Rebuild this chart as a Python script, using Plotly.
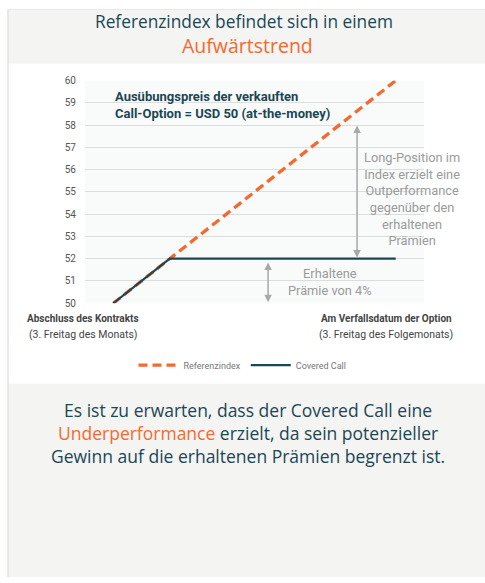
import plotly.graph_objects as go

# ---- data ----
ref_x = [1, 11]
ref_y = [50, 60]
cc_x = [1, 3, 11]
cc_y = [50, 52, 52]
y_ticks = [50, 51, 52, 53, 54, 55, 56, 57, 58, 59, 60]
series_names = ["Referenzindex", "Covered Call"]

W, H = 485, 583
ORANGE = "#f26a30"
TEAL = "#1b4754"
GREY_TXT = "#9b9b9b"
FONT = "Roboto"
TFONT = "Open Sans"

def px(xp):  # paper x from pixel
    return xp / W

def py(yp):  # paper y from pixel
    return 1 - yp / H

fig = go.Figure()
fig.add_trace(go.Scatter(x=ref_x, y=ref_y, mode="lines", name=series_names[0],
                         line=dict(color=ORANGE, width=3.3, dash="9px,5px"), cliponaxis=False))
fig.add_trace(go.Scatter(x=cc_x, y=cc_y, mode="lines", name=series_names[1],
                         line=dict(color=TEAL, width=2.2), cliponaxis=False))

shapes = [
    dict(type="rect", xref="paper", yref="paper", x0=px(8), x1=1, y0=py(60), y1=py(5),
         fillcolor="#f4f4f3", line=dict(width=0), layer="below"),
    dict(type="rect", xref="paper", yref="paper", x0=px(8), x1=1, y0=0, y1=py(386),
         fillcolor="#f4f4f3", line=dict(width=0), layer="below"),
    dict(type="line", xref="paper", yref="paper", x0=px(8), x1=px(8), y0=0, y1=py(4),
         line=dict(color="#e2e2e2", width=1.5), layer="below"),
    dict(type="line", xref="paper", yref="paper", x0=px(8), x1=1, y0=py(4.5), y1=py(4.5),
         line=dict(color="#e6e6e6", width=1), layer="below"),
]

def ann(**kw):
    kw.setdefault("xanchor", "center")
    kw.setdefault("yanchor", "middle")
    kw.setdefault("showarrow", False)
    return kw

annotations = [
    ann(text="Referenzindex befindet sich in einem", xref="paper", yref="paper",
        x=px(244), y=py(17), font=dict(family=TFONT, size=17.3, color=TEAL)),
    ann(text="Aufwärtstrend", xref="paper", yref="paper",
        x=px(248), y=py(41), font=dict(family=TFONT, size=19.5, color=ORANGE)),
    ann(text="Ausübungspreis der verkauften<br>Call-Option = USD 50 (at-the-money)",
        xref="x", yref="y", x=1.0, y=58.9, xanchor="left", align="left",
        font=dict(family=FONT, size=13, color=TEAL, weight="bold")),
    ann(text="Long-Position im<br>Index erzielt eine<br>Outperformance<br>gegenüber den<br>erhaltenen<br>Prämien",
        xref="x", yref="y", x=11.57, y=54.67, align="center",
        font=dict(family=FONT, size=12.8, color=GREY_TXT)),
    ann(text="Erhaltene<br>Prämie von 4%", xref="x", yref="y", x=8.67, y=50.97,
        align="center", font=dict(family=FONT, size=12.8, color=GREY_TXT)),
    dict(x=9.63, y=52.05, ax=9.63, ay=58.05, xref="x", yref="y", axref="x", ayref="y",
         text="", showarrow=True, arrowside="end+start", arrowhead=2, arrowsize=1,
         arrowwidth=1.5, arrowcolor="#a8a8a8"),
    dict(x=6.48, y=50.05, ax=6.48, ay=51.9, xref="x", yref="y", axref="x", ayref="y",
         text="", showarrow=True, arrowside="end+start", arrowhead=2, arrowsize=1,
         arrowwidth=1.5, arrowcolor="#a8a8a8"),
    ann(text="<b>Abschluss des Kontrakts</b>", xref="paper", yref="paper",
        x=px(83), y=py(320), font=dict(family=FONT, size=10, color="#444444")),
    ann(text="(3. Freitag des Monats)", xref="paper", yref="paper",
        x=px(83), y=py(336), font=dict(family=FONT, size=10.5, color="#444444")),
    ann(text="<b>Am Verfallsdatum der Option</b>", xref="paper", yref="paper",
        x=px(386), y=py(320), font=dict(family=FONT, size=10, color="#444444")),
    ann(text="(3. Freitag des Folgemonats)", xref="paper", yref="paper",
        x=px(386), y=py(336), font=dict(family=FONT, size=10.5, color="#444444")),
    ann(text="Es ist zu erwarten, dass der Covered Call eine<br>"
             f"<span style='color:{ORANGE}'>Underperformance</span> erzielt, da sein potenzieller<br>"
             "Gewinn auf die erhaltenen Prämien begrenzt ist.",
        xref="paper", yref="paper", x=px(248), y=py(436), align="center",
        font=dict(family=TFONT, size=17.5, color=TEAL)),
]

fig.update_layout(
    width=W, height=H, margin=dict(l=0, r=0, t=0, b=0),
    paper_bgcolor="white", plot_bgcolor="#f9fafa",
    shapes=shapes, annotations=annotations,
    showlegend=True,
    legend=dict(orientation="h", x=0.5, xanchor="center", y=py(367), yanchor="middle",
                font=dict(family=FONT, size=9, color="#777777"), bgcolor="rgba(0,0,0,0)",
                itemwidth=40),
    xaxis=dict(domain=[px(85), px(424)], range=[0, 12], showgrid=False, zeroline=False,
               showticklabels=False, ticks="", fixedrange=True),
    yaxis=dict(domain=[py(304), py(77)], range=[50, 60], tickvals=y_ticks,
               showgrid=True, gridcolor="#dddddd", gridwidth=1, zeroline=False,
               ticks="", ticklabelstandoff=8, fixedrange=True,
               tickfont=dict(family=FONT, size=10, color="#555555")),
)

fig.write_html("out.html", config={"displayModeBar": False},
               post_script="document.body.style.margin='0';")
